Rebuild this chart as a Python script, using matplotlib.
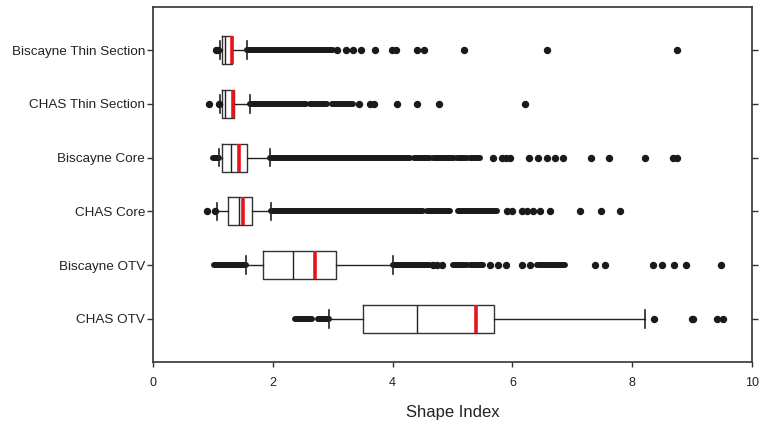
import matplotlib
matplotlib.use("Agg")
import matplotlib.pyplot as plt

plt.rcParams['font.family'] = ['Liberation Sans', 'DejaVu Sans']

categories = ["Biscayne Thin Section", "CHAS Thin Section", "Biscayne Core",
              "CHAS Core", "Biscayne OTV", "CHAS OTV"]

q1 = [1.15, 1.15, 1.15, 1.26, 1.83, 3.50]
median = [1.21, 1.21, 1.30, 1.44, 2.34, 4.40]
q3 = [1.32, 1.35, 1.57, 1.65, 3.05, 5.70]
whisk_lo = [1.12, 1.12, 1.11, 1.07, 1.56, 2.93]
whisk_hi = [1.57, 1.62, 1.95, 1.97, 4.00, 8.22]
mean = [1.32, 1.33, 1.44, 1.50, 2.71, 5.40]

# individually visible outliers
outliers = [
    [1.06, 1.09, 3.08, 3.22, 3.34, 3.47, 3.71, 3.99, 4.06, 4.40, 4.52, 5.20, 6.58, 8.75],
    [0.94, 1.10, 3.44, 3.62, 3.69, 4.07, 4.41, 4.78, 6.21],
    [5.68, 5.82, 5.89, 5.96, 6.27, 6.42, 6.58, 6.71, 6.84, 7.32, 7.62, 8.21, 8.68, 8.75],
    [0.90, 1.03, 5.91, 5.99, 6.16, 6.25, 6.34, 6.46, 6.63, 7.13, 7.48, 7.80],
    [4.67, 4.74, 4.82, 5.63, 5.76, 5.90, 6.16, 6.29, 7.38, 7.55, 8.35, 8.49, 8.70, 8.89, 9.49],
    [8.37, 8.99, 9.02, 9.41, 9.52],
]

# runs of outliers so dense that the dots merge into a band: (start, end)
dense_runs = [
    [(1.57, 3.00)],
    [(1.62, 2.56), (2.62, 2.90), (2.98, 3.34)],
    [(1.00, 1.10), (1.95, 4.29), (4.35, 4.62), (4.68, 5.02), (5.07, 5.25), (5.30, 5.46)],
    [(1.97, 4.51), (4.57, 4.96), (5.09, 5.74)],
    [(1.02, 1.55), (4.00, 4.62), (5.01, 5.25), (5.30, 5.51), (6.41, 6.88)],
    [(2.37, 2.66), (2.75, 2.93)],
]

xticks = [0, 2, 4, 6, 8, 10]
xlabel = "Shape Index"

fig = plt.figure(figsize=(7.59, 4.23), dpi=100)
ax = fig.add_axes([153 / 759, (423 - 362) / 423, (752 - 153) / 759, (362 - 7) / 423])

positions = list(range(len(categories)))
stats = []
for i in positions:
    stats.append(dict(q1=q1[i], med=median[i], q3=q3[i], whislo=whisk_lo[i],
                      whishi=whisk_hi[i], mean=mean[i], fliers=outliers[i]))

edge = "#333333"
ax.bxp(stats, positions=positions, vert=False, widths=0.52, capwidths=0.33,
       showmeans=True, meanline=True, showfliers=True,
       boxprops=dict(color=edge, linewidth=1.0),
       medianprops=dict(color="#222222", linewidth=1.0),
       whiskerprops=dict(color="#222222", linewidth=1.0),
       capprops=dict(color="#222222", linewidth=1.2),
       meanprops=dict(color="#e8141c", linewidth=2.6, linestyle="-"),
       flierprops=dict(marker="o", markersize=4.3, markerfacecolor="#1a1a1a",
                       markeredgecolor="#1a1a1a", linestyle="none"))

for i, runs in enumerate(dense_runs):
    for a, b in runs:
        ax.plot([a, b], [i, i], color="#1a1a1a", linewidth=4.3,
                solid_capstyle="round", zorder=1)

ax.set_xlim(0, 10)
ax.set_ylim(5.8, -0.8)
ax.set_xticks(xticks)
ax.set_xticklabels([str(t) for t in xticks], fontsize=9, color="#222222")
ax.set_yticks(positions)
ax.set_yticklabels(categories, fontsize=9.7, color="#222222")
ax.set_xlabel(xlabel, fontsize=12, color="#222222", labelpad=11)

for s in ax.spines.values():
    s.set_color(edge)
    s.set_linewidth(1.2)
ax.tick_params(axis="x", length=3.5, width=1.0, color=edge, pad=7.5, direction="out")
ax.tick_params(axis="y", length=4.3, width=1.0, color=edge, pad=1.5, direction="out",
               right=True)

fig.savefig("out.png", dpi=100)
